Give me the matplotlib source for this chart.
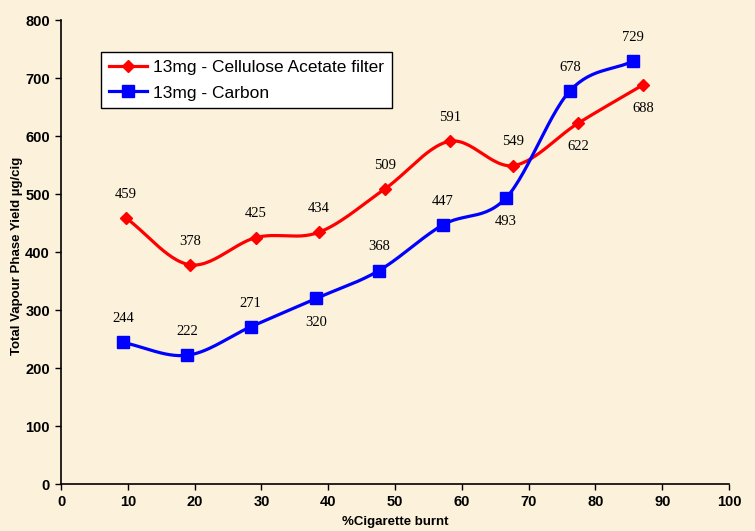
import numpy as np
import matplotlib
matplotlib.use("Agg")
import matplotlib.pyplot as plt
from matplotlib.lines import Line2D

# % of cigarette burnt at each puff and vapour phase yield (ug/cig)
ca_x = [9.7, 19.3, 29.2, 38.6, 48.5, 58.2, 67.7, 77.4, 87.1]
ca_y = [459, 378, 425, 434, 509, 591, 549, 622, 688]
carbon_x = [9.3, 18.9, 28.4, 38.2, 47.6, 57.2, 66.6, 76.2, 85.6]
carbon_y = [244, 222, 271, 320, 368, 447, 493, 678, 729]

# label placement: +1 above the point, -1 below
ca_pos = [1, 1, 1, 1, 1, 1, 1, -1, -1]
carbon_pos = [1, 1, 1, -1, 1, 1, -1, 1, 1]

labels = ["13mg - Cellulose Acetate filter", "13mg - Carbon"]
bg = "#FCF1DA"


def smooth(x, y, n=30):
    # Catmull-Rom style curve through the points, like a smoothed spreadsheet line
    x = np.asarray(x, float)
    y = np.asarray(y, float)
    px = np.concatenate([[2 * x[0] - x[1]], x, [2 * x[-1] - x[-2]]])
    py = np.concatenate([[2 * y[0] - y[1]], y, [2 * y[-1] - y[-2]]])
    xs, ys = [], []
    t = np.linspace(0, 1, n)
    for i in range(1, len(px) - 2):
        x0, x1, x2, x3 = px[i - 1:i + 3]
        y0, y1, y2, y3 = py[i - 1:i + 3]
        k = 1 / 6
        cx1, cy1 = x1 + (x2 - x0) * k, y1 + (y2 - y0) * k
        cx2, cy2 = x2 - (x3 - x1) * k, y2 - (y3 - y1) * k
        bx = (1 - t) ** 3 * x1 + 3 * (1 - t) ** 2 * t * cx1 + 3 * (1 - t) * t ** 2 * cx2 + t ** 3 * x2
        by = (1 - t) ** 3 * y1 + 3 * (1 - t) ** 2 * t * cy1 + 3 * (1 - t) * t ** 2 * cy2 + t ** 3 * y2
        xs.extend(bx)
        ys.extend(by)
    return xs, ys


fig = plt.figure(figsize=(7.55, 5.31), dpi=100, facecolor=bg)
ax = fig.add_axes([0.0808, 0.0885, 0.8848, 0.8738])
ax.set_facecolor(bg)

for xv, yv, col, mk, ms, pos in [
    (ca_x, ca_y, "#FF0000", "D", 6.5, ca_pos),
    (carbon_x, carbon_y, "#0000FF", "s", 8, carbon_pos),
]:
    sx, sy = smooth(xv, yv)
    ax.plot(sx, sy, color=col, lw=2.3, zorder=3)
    ax.plot(xv, yv, ls="none", marker=mk, ms=ms, color=col, zorder=4)
    for a, b, p in zip(xv, yv, pos):
        ax.annotate(str(b), (a, b), xytext=(0, 17 * p), textcoords="offset points",
                    ha="center", va="center", fontsize=10.5,
                    fontfamily="Liberation Serif", color="black")

ax.set_xlim(0, 100)
ax.set_ylim(0, 800)
ax.set_xticks(range(0, 101, 10))
ax.set_yticks(range(0, 801, 100))
for s in ["top", "right"]:
    ax.spines[s].set_visible(False)
for s in ["left", "bottom"]:
    ax.spines[s].set_linewidth(1.2)
ax.tick_params(direction="out", length=4, width=1, pad=4)
for lab in ax.get_xticklabels() + ax.get_yticklabels():
    lab.set_fontfamily("Liberation Sans")
    lab.set_fontweight("bold")
    lab.set_fontsize(10.5)

fig.text(0.523, 0.017, "%Cigarette burnt", fontfamily="Liberation Sans",
         fontweight="bold", fontsize=9.5, ha="center", va="center")
fig.text(0.0225, 0.518, "Total Vapour Phase Yield µg/cig", fontfamily="Liberation Sans",
         fontweight="bold", fontsize=9.5, ha="center", va="center", rotation=90)

handles = [
    Line2D([], [], color="#FF0000", lw=2.3, marker="D", ms=6.5),
    Line2D([], [], color="#0000FF", lw=2.3, marker="s", ms=8),
]
leg = ax.legend(handles, labels, loc="upper left", bbox_to_anchor=(0.06, 0.931),
                borderaxespad=0, frameon=True, fancybox=False, edgecolor="black",
                facecolor="white", framealpha=1, borderpad=0.45, handlelength=2.2,
                handletextpad=0.35, labelspacing=0.6,
                prop={"family": "Liberation Sans", "size": 12.5})
leg.get_frame().set_linewidth(1.0)

fig.savefig("out.png", dpi=100, facecolor=bg)
